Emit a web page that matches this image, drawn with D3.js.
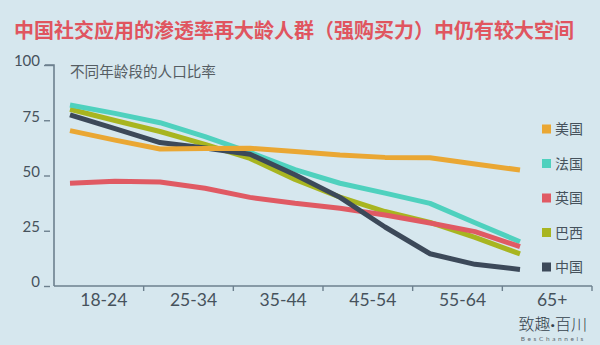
<!DOCTYPE html>
<html>
<head>
<meta charset="utf-8">
<script src="https://cdn.jsdelivr.net/npm/d3@7"></script>
<style>
  html, body { margin: 0; padding: 0; background: #d6e7ee; }
  svg { display: block; }
</style>
</head>
<body>
<script>
// ---- data ----
const categories = ["18-24", "25-34", "35-44", "45-54", "55-64", "65+"];
// sample positions along the age axis, in category units
const agePos = [0, 0.5, 1, 1.5, 2, 2.5, 3, 3.5, 4, 4.5, 5];
const usa    = [70.3, 66.0, 62.0, 62.2, 62.3, 60.9, 59.3, 58.2, 58.0, 55.2, 52.5];
const france = [81.9, 78.1, 73.9, 67.6, 60.5, 52.7, 46.5, 42.0, 37.4, 28.6, 20.0];
const uk     = [46.5, 47.4, 47.1, 44.2, 40.1, 37.4, 35.2, 32.1, 28.5, 24.6, 17.8];
const brazil = [80.0, 74.9, 69.9, 64.1, 57.7, 48.2, 40.2, 33.7, 28.8, 22.0, 14.5];
const china  = [77.4, 71.2, 64.9, 62.4, 59.6, 50.3, 40.1, 26.7, 14.6, 9.8, 7.5];
const seriesNames = ["美国", "法国", "英国", "巴西", "中国"];
const yTicks = [0, 25, 50, 75, 100];
const titleText = "中国社交应用的渗透率再大龄人群（强购买力）中仍有较大空间";
const subtitleText = "不同年龄段的人口比率";

// ---- setup ----
const W = 600, H = 345;
const colors = {"美国": "#eaa733", "法国": "#4fd1be", "英国": "#e05a63", "巴西": "#a8b520", "中国": "#3c4959"};
const seriesValues = {"美国": usa, "法国": france, "英国": uk, "巴西": brazil, "中国": china};
const drawOrder = ["巴西", "法国", "英国", "中国", "美国"];
const axisColor = "#6d808e";
const textColor = "#46525c";
const numFont = "Lato, 'Open Sans', sans-serif";
const cjkFont = "'Noto Sans CJK SC', sans-serif";

const svg = d3.select("body").append("svg").attr("width", W).attr("height", H);
svg.append("rect").attr("width", W).attr("height", H).attr("fill", "#d6e7ee");

const y = d3.scaleLinear().domain([0, 100]).range([286, 65]);
const xBand = d3.scaleBand().domain(categories).range([54, 592]).padding(0);
const xLine = d3.scaleLinear().domain([0, 5]).range([70, 520]);

// title
svg.append("text")
  .attr("x", 14).attr("y", 38)
  .attr("font-family", cjkFont).attr("font-weight", "bold")
  .attr("font-size", 20).attr("fill", "#e0555f")
  .text(titleText);

// subtitle
svg.append("text")
  .attr("x", 70).attr("y", 77)
  .attr("font-family", cjkFont).attr("font-size", 14.6)
  .attr("fill", "#555d63")
  .text(subtitleText);

// y axis
const yAxis = d3.axisLeft(y).tickValues(yTicks).tickSize(9).tickPadding(5);
const gy = svg.append("g").attr("transform", "translate(54,0)").call(yAxis);
gy.select(".domain").attr("stroke", axisColor).attr("stroke-width", 1.6).attr("d", `M-9,${y(100)}H0V${y(0)}`);
gy.selectAll(".tick line").attr("stroke", axisColor).attr("stroke-width", 1.4)
  .attr("x1", -10).attr("x2", -4);
gy.selectAll(".tick line").filter(d => d === 100).attr("x2", 0);
gy.selectAll(".tick text")
  .attr("font-family", numFont).attr("font-size", 15).attr("fill", textColor)
  .attr("dy", "0.05em");

// x axis (ticks at band boundaries, labels centered in bands)
const gx = svg.append("g").attr("transform", `translate(0,${y(0)})`);
gx.append("line").attr("x1", xBand.range()[0]).attr("x2", xBand.range()[1])
  .attr("stroke", axisColor).attr("stroke-width", 1.6);
gx.selectAll("line.tk").data(categories).enter().append("line").attr("class", "tk")
  .attr("x1", d => xBand(d) + xBand.bandwidth()).attr("x2", d => xBand(d) + xBand.bandwidth())
  .attr("y1", 0).attr("y2", 5).attr("stroke", axisColor).attr("stroke-width", 1.4);
gx.selectAll("text").data(categories).enter().append("text")
  .attr("x", d => xBand(d) + xBand.bandwidth() / 2 + 5)
  .attr("y", 20)
  .attr("text-anchor", "middle")
  .attr("font-family", numFont).attr("font-size", 17.5).attr("fill", textColor)
  .text(d => d);

// lines
const line = d3.line().x((d, i) => xLine(agePos[i])).y(d => y(d));
svg.append("g").selectAll("path").data(drawOrder).enter().append("path")
  .attr("d", name => line(seriesValues[name]))
  .attr("fill", "none")
  .attr("stroke", name => colors[name])
  .attr("stroke-width", 5)
  .attr("stroke-linejoin", "round")
  .attr("stroke-linecap", "butt");

// legend
const legY = d3.scalePoint().domain(seriesNames).range([129, 267]);
const leg = svg.append("g").selectAll("g").data(seriesNames).enter().append("g")
  .attr("transform", d => `translate(542,${legY(d)})`);
leg.append("rect").attr("x", 0).attr("y", -4.5).attr("width", 9).attr("height", 9)
  .attr("fill", d => colors[d]);
leg.append("text").attr("x", 13).attr("y", 5)
  .attr("font-family", cjkFont).attr("font-size", 14).attr("fill", textColor)
  .text(d => d);

// watermark
const wm = svg.append("text").attr("x", 587).attr("y", 330).attr("text-anchor", "end")
  .attr("font-family", cjkFont).attr("font-size", 16).attr("font-weight", 300)
  .attr("fill", "#34414c");
wm.append("tspan").text("致趣");
wm.append("tspan").attr("font-family", numFont).attr("font-weight", 700).text("·");
wm.append("tspan").text("百川");
svg.append("text").attr("x", 586).attr("y", 341).attr("text-anchor", "end")
  .attr("font-family", numFont).attr("font-size", 6.5).attr("letter-spacing", 2.6)
  .attr("fill", "#5c6770").text("BesChannels");
</script>
</body>
</html>
